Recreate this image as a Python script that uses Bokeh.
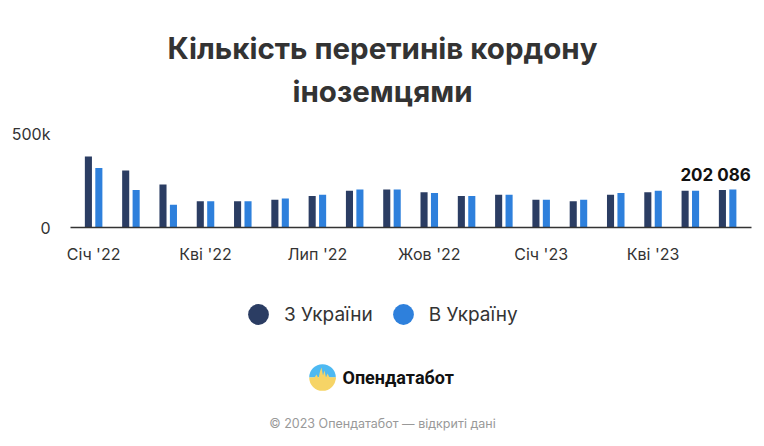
import math
from bokeh.plotting import figure
from bokeh.models import (Range1d, FixedTicker, Label, Legend, LegendItem,
                          ColumnDataSource)
from bokeh.layouts import column
from bokeh.transform import dodge
from bokeh.embed import file_html
from bokeh.resources import INLINE

# ---------------- data ----------------
months = ["Січ '22", "Лют '22", "Бер '22", "Кві '22", "Тра '22", "Чер '22",
          "Лип '22", "Сер '22", "Вер '22", "Жов '22", "Лис '22", "Гру '22",
          "Січ '23", "Лют '23", "Бер '23", "Кві '23", "Тра '23", "Чер '23"]
tick_labels = {0: "Січ '22", 3: "Кві '22", 6: "Лип '22", 9: "Жов '22",
               12: "Січ '23", 15: "Кві '23"}
from_ukraine = [378000, 303000, 229000, 140000, 140000, 147000, 167000, 195000, 202000,
                188000, 167000, 174000, 147000, 140000, 174000, 188000, 196000, 200000]
to_ukraine = [316000, 200000, 121000, 140000, 140000, 154000, 174000, 202000, 202000,
              183000, 167000, 174000, 147000, 147000, 183000, 195000, 196000, 202086]
series_names = ["З України", "В Україну"]
y_ticks = {0: "0", 500000: "500k"}
title_lines = ["Кількість перетинів кордону", "іноземцями"]
value_label = "202 086"
brand = "Опендатабот"
footer = "© 2023 Опендатабот — відкриті дані"

DARK = "#2b3d63"
BLUE = "#2e80dc"
TXT = "#333333"
FONT = "Inter"
W = 764
BL, BR = 70, 13          # side borders shared by all stacked figures
XL, XR = BL, W - BR      # page x of frame edges

# ---------------- header (title) ----------------
h = figure(width=W, height=120, output_backend="svg", toolbar_location=None,
           x_range=Range1d(XL, XR), y_range=Range1d(0, 120),
           x_axis_type=None, y_axis_type=None, min_border=0,
           min_border_left=BL, min_border_right=BR)
h.outline_line_color = None
h.grid.grid_line_color = None
h.add_layout(Label(x=382, y=73, text=title_lines[0], text_align="center",
                   text_baseline="alphabetic", text_font=FONT, text_font_size="29.5px",
                   text_font_style="bold", text_color=TXT))
h.add_layout(Label(x=382, y=30, text=title_lines[1], text_align="center",
                   text_baseline="alphabetic", text_font=FONT, text_font_size="29.5px",
                   text_font_style="bold", text_color=TXT))

# ---------------- main chart ----------------
src = ColumnDataSource(dict(x=list(range(len(months))), month=months,
                            out=from_ukraine, inn=to_ukraine))

p = figure(width=W, height=165, output_backend="svg", toolbar_location=None,
           x_range=Range1d(-0.62, 17.64), y_range=Range1d(0, 500000),
           min_border_left=BL, min_border_right=BR, min_border_top=13,
           min_border_bottom=58)
p.outline_line_color = None

p.vbar(x=dodge("x", -0.14), top="out", width=0.19, source=src,
       fill_color=DARK, line_color=None)
p.vbar(x=dodge("x", 0.14), top="inn", width=0.19, source=src,
       fill_color=BLUE, line_color=None)

p.xaxis.ticker = FixedTicker(ticks=list(tick_labels.keys()))
p.xaxis.major_label_overrides = tick_labels
p.xaxis.axis_line_color = TXT
p.xaxis.axis_line_width = 1.5
p.xaxis.major_tick_line_color = None
p.xaxis.minor_tick_line_color = None
p.xaxis.major_label_standoff = 10
p.xaxis.major_label_text_font_size = "16px"
p.xaxis.major_label_text_color = TXT
p.xaxis.major_label_text_font = FONT

p.yaxis.ticker = FixedTicker(ticks=list(y_ticks.keys()))
p.yaxis.major_label_overrides = y_ticks
p.yaxis.axis_line_color = None
p.yaxis.major_tick_line_color = None
p.yaxis.minor_tick_line_color = None
p.yaxis.major_label_standoff = 14
p.yaxis.major_label_text_font_size = "16px"
p.yaxis.major_label_text_color = TXT
p.yaxis.major_label_text_font = FONT

p.xgrid.grid_line_color = None
p.ygrid.ticker = FixedTicker(ticks=[500000])
p.ygrid.grid_line_color = "#e6e6e6"

last = len(months) - 1
p.add_layout(Label(x=last, y=to_ukraine[last], x_offset=-12, y_offset=15,
                   text=value_label, text_align="center", text_baseline="alphabetic",
                   text_font=FONT, text_font_size="17px", text_font_style="bold",
                   text_color="#111111"))

# ---------------- footer: legend, logo, credits ----------------
q = figure(width=W, height=161, output_backend="svg", toolbar_location=None,
           x_range=Range1d(XL, XR), y_range=Range1d(0, 161),
           x_axis_type=None, y_axis_type=None, min_border=0,
           min_border_left=BL, min_border_right=BR)
q.outline_line_color = None
q.grid.grid_line_color = None

s1 = q.scatter(x=[0], y=[0], size=20, fill_color=DARK, line_color=None, visible=False)
s2 = q.scatter(x=[0], y=[0], size=20, fill_color=BLUE, line_color=None, visible=False)
legend = Legend(items=[LegendItem(label=series_names[0], renderers=[s1]),
                       LegendItem(label=series_names[1], renderers=[s2])],
                orientation="horizontal", location=(162, 106),
                glyph_width=52, glyph_height=52, label_standoff=0, spacing=4,
                padding=0, margin=0, border_line_color=None, background_fill_alpha=0,
                label_text_font_size="19px", label_text_color=TXT, label_text_font=FONT)
q.add_layout(legend, "center")

cx, cy, r = 322, 69, 13.3
q.wedge(x=[cx], y=[cy], radius=r, start_angle=0, end_angle=math.pi,
        fill_color="#4db9f2", line_color=None)
q.wedge(x=[cx], y=[cy], radius=r, start_angle=math.pi, end_angle=2 * math.pi,
        fill_color="#f6d466", line_color=None)
sx = [cx - r, cx - 8, cx - 6, cx - 4, cx - 2.5, cx - 1, cx + 0.5, cx + 2, cx + 3.5,
      cx + 5, cx + 7, cx + r, cx + r]
sy = [cy, cy, cy + 3, cy - 1, cy + 6, cy + 10, cy + 2, cy + 7, cy, cy + 4, cy, cy, cy - 2]
q.patch(x=sx, y=sy, fill_color="#f6d466", line_color=None)

q.add_layout(Label(x=342, y=69, text=brand, text_align="left", text_baseline="middle",
                   text_font="Roboto", text_font_size="18px", text_font_style="bold",
                   text_color="#111111"))
q.add_layout(Label(x=382, y=23, text=footer, text_align="center", text_baseline="middle",
                   text_font=FONT, text_font_size="12.5px", text_color="#999999"))

layout = column(h, p, q, spacing=0)
open("out.html", "w").write(file_html(layout, INLINE))
